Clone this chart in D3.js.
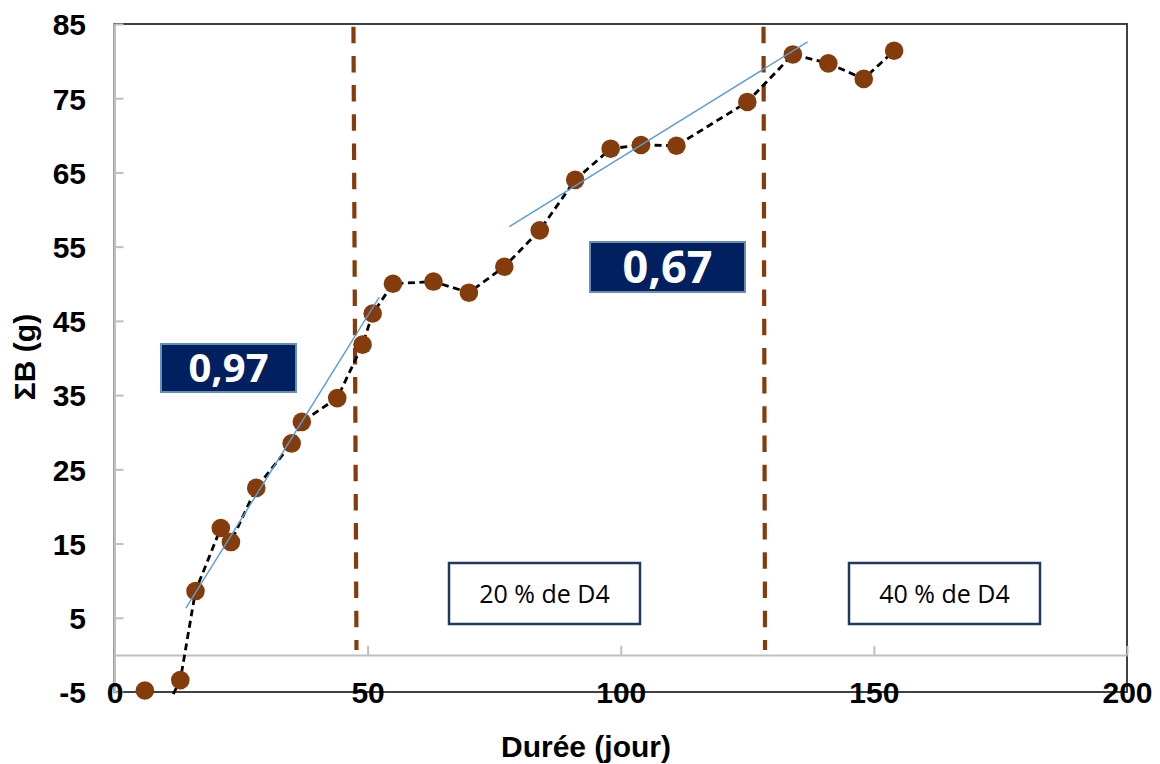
<!DOCTYPE html>
<html>
<head>
<meta charset="utf-8">
<script src="https://cdn.jsdelivr.net/npm/d3@7/dist/d3.min.js"></script>
<style>
  html, body { margin: 0; padding: 0; background: #ffffff; }
  svg { display: block; }
</style>
</head>
<body>
<svg id="chart" width="1160" height="764"></svg>
<script>
// ---- data ----
const days = [6, 13, 16, 21, 23, 28, 35, 37, 44, 49, 51, 55, 63, 70, 77, 84, 91, 98, 104, 111, 125, 134, 141, 148, 154];
const sumB = [-4.8, -3.4, 8.6, 17.1, 15.2, 22.5, 28.5, 31.4, 34.6, 41.8, 46.0, 50.0, 50.3, 48.8, 52.3, 57.2, 64.0, 68.2, 68.7, 68.6, 74.5, 80.9, 79.7, 77.6, 81.4];
const lineStart = [11.6, -5.3];           // the dashed line enters from below the axis
const lineFirstIndex = 1;                 // dashed line joins points from this index on
const trend1 = [[14.1, 6.3], [52.3, 48.2]];
const trend2 = [[78.0, 57.7], [136.9, 82.6]];
const phaseTop = [47.2, 128.2];
const phaseBottom = [47.8, 128.5];
const slopeLabels = ["0,97", "0,67"];
const phaseLabels = ["20 % de D4", "40 % de D4"];
const xTicks = [0, 50, 100, 150, 200];
const yTicks = [-5, 5, 15, 25, 35, 45, 55, 65, 75, 85];
const xTitle = "Durée (jour)";
const yTitle = "ΣB (g)";

// ---- layout ----
const svg = d3.select("#chart");
const L = 114.5, R = 1127, T = 24, B = 692;
const x = d3.scaleLinear().domain([0, 200]).range([L, R]);
const y = d3.scaleLinear().domain([-5, 85]).range([B, T]);

const brown = "#843C0C";
const axisGray = "#BFBFBF";
const frameDark = "#404040";
const tickFont = "'Liberation Sans', Arial, sans-serif";
const fmt = d => String(d);   // plain hyphen-minus

// plot frame (top, right, bottom dark)
svg.append("rect")
  .attr("x", L).attr("y", T).attr("width", R - L).attr("height", B - T)
  .attr("fill", "none").attr("stroke", frameDark).attr("stroke-width", 2);

// y axis (gray, ticks inward)
const yAxis = d3.axisLeft(y).tickValues(yTicks).tickFormat(fmt)
  .tickSizeInner(-9).tickSizeOuter(0).tickPadding(28.5);
const gy = svg.append("g").attr("transform", `translate(${L},0)`).call(yAxis);
gy.select(".domain").attr("stroke", axisGray).attr("stroke-width", 2);
gy.selectAll(".tick line").attr("stroke", axisGray).attr("stroke-width", 2);
gy.selectAll(".tick text")
  .attr("font-family", tickFont).attr("font-weight", "bold").attr("font-size", 30)
  .attr("fill", "#000").attr("dy", "0.36em");

// x axis line at y = 0 (gray, ticks upward)
const xAxisTicks = d3.axisBottom(x).tickValues(xTicks).tickSizeInner(-9).tickSizeOuter(0).tickFormat("");
const gx = svg.append("g").attr("transform", `translate(0,${y(0)})`).call(xAxisTicks);
gx.select(".domain").attr("stroke", axisGray).attr("stroke-width", 2);
gx.selectAll(".tick line").attr("stroke", axisGray).attr("stroke-width", 2);

// x labels at the bottom of plot area
const xAxisLabels = d3.axisBottom(x).tickValues(xTicks).tickSize(0).tickFormat(fmt);
const gxl = svg.append("g").attr("transform", `translate(0,${B})`).call(xAxisLabels);
gxl.select(".domain").remove();
gxl.selectAll(".tick text")
  .attr("font-family", tickFont).attr("font-weight", "bold").attr("font-size", 30)
  .attr("fill", "#000").attr("y", 0).attr("dy", "0.36em");

// axis titles
svg.append("text")
  .attr("x", 586).attr("y", 757)
  .attr("text-anchor", "middle")
  .attr("font-family", tickFont).attr("font-weight", "bold").attr("font-size", 30)
  .text(xTitle);
svg.append("text")
  .attr("transform", "translate(35,357) rotate(-90)")
  .attr("text-anchor", "middle")
  .attr("font-family", tickFont).attr("font-weight", "bold").attr("font-size", 30)
  .text(yTitle);

// phase separators
svg.append("g").selectAll("line").data(phaseTop).join("line")
  .attr("x1", d => x(d)).attr("y1", T + 2.7)
  .attr("x2", (d, i) => x(phaseBottom[i])).attr("y2", 650)
  .attr("stroke", brown).attr("stroke-width", 4.2)
  .attr("stroke-dasharray", "16.5,12.7");

// dashed data line
const pts = days.map((d, i) => [d, sumB[i]]);
const linePts = [lineStart].concat(pts.slice(lineFirstIndex));
const line = d3.line().x(d => x(d[0])).y(d => y(d[1]));
svg.append("path")
  .attr("d", line(linePts))
  .attr("fill", "none").attr("stroke", "#000").attr("stroke-width", 2.8)
  .attr("stroke-dasharray", "7,4.5");

// markers
svg.append("g").selectAll("circle").data(pts).join("circle")
  .attr("cx", d => x(d[0])).attr("cy", d => y(d[1])).attr("r", 9.3)
  .attr("fill", brown);

// trend lines
svg.append("g").selectAll("path").data([trend1, trend2]).join("path")
  .attr("d", d => line(d))
  .attr("fill", "none").attr("stroke", "#5B9BD5").attr("stroke-width", 1.4);

// slope label boxes
const slopeBoxes = [
  { x0: 161, y0: 344, x1: 296, y1: 392 },
  { x0: 590, y0: 242, x1: 745, y1: 292 }
];
const sg = svg.append("g").selectAll("g").data(slopeLabels).join("g");
sg.append("rect")
  .attr("x", (d, i) => slopeBoxes[i].x0).attr("y", (d, i) => slopeBoxes[i].y0)
  .attr("width", (d, i) => slopeBoxes[i].x1 - slopeBoxes[i].x0)
  .attr("height", (d, i) => slopeBoxes[i].y1 - slopeBoxes[i].y0)
  .attr("fill", "#002060").attr("stroke", "#6A8CB8").attr("stroke-width", 2);
sg.append("text")
  .attr("x", (d, i) => (slopeBoxes[i].x0 + slopeBoxes[i].x1) / 2)
  .attr("y", (d, i) => (slopeBoxes[i].y0 + slopeBoxes[i].y1) / 2)
  .attr("dy", "0.36em")
  .attr("text-anchor", "middle")
  .attr("font-family", "'Open Sans', sans-serif").attr("font-weight", "bold")
  .attr("font-size", (d, i) => i === 0 ? 40 : 45)
  .attr("fill", "#fff")
  .text(d => d);

// phase label boxes
const phaseBoxes = [
  { x0: 449, y0: 563, x1: 640, y1: 624 },
  { x0: 849, y0: 563, x1: 1040, y1: 624 }
];
const pg = svg.append("g").selectAll("g").data(phaseLabels).join("g");
pg.append("rect")
  .attr("x", (d, i) => phaseBoxes[i].x0).attr("y", (d, i) => phaseBoxes[i].y0)
  .attr("width", (d, i) => phaseBoxes[i].x1 - phaseBoxes[i].x0)
  .attr("height", (d, i) => phaseBoxes[i].y1 - phaseBoxes[i].y0)
  .attr("fill", "#fff").attr("stroke", "#1F3864").attr("stroke-width", 2.5);
pg.append("text")
  .attr("x", (d, i) => (phaseBoxes[i].x0 + phaseBoxes[i].x1) / 2)
  .attr("y", (d, i) => (phaseBoxes[i].y0 + phaseBoxes[i].y1) / 2)
  .attr("dy", "0.36em")
  .attr("text-anchor", "middle")
  .attr("font-family", "'Open Sans', sans-serif")
  .attr("font-size", 25)
  .attr("fill", "#000")
  .text(d => d);
</script>
</body>
</html>
